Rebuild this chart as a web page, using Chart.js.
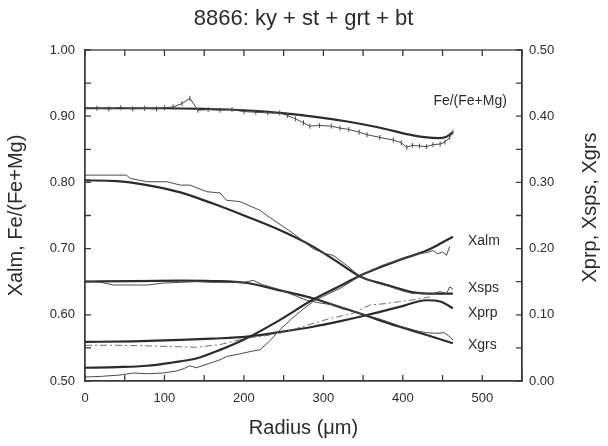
<!DOCTYPE html>
<html>
<head>
<meta charset="utf-8">
<script src="https://cdn.jsdelivr.net/npm/chart.js@4.4.0/dist/chart.umd.min.js"></script>
<style>
	body { margin: 0; background: #fff; }
	#wrap { width: 608px; height: 446px; }
</style>
</head>
<body>
<div id="wrap"><canvas id="garnetChart" width="608" height="446"></canvas></div>
<script>
// Radius (um) and values. Left axis: Xalm, Fe/(Fe+Mg); right axis: Xprp, Xsps, Xgrs
const feMeasR = [0, 15, 30, 45, 60, 75, 90, 100, 111, 122, 132, 142, 155, 170, 185, 200, 215, 230, 245, 255, 265, 275, 283, 295, 310, 321, 332, 345, 355, 371, 388, 398, 405, 412, 421, 430, 438, 447, 453, 459, 463];
const feMeas = [0.912, 0.912, 0.911, 0.913, 0.911, 0.912, 0.911, 0.913, 0.914, 0.919, 0.927, 0.909, 0.910, 0.909, 0.910, 0.907, 0.906, 0.905, 0.905, 0.901, 0.896, 0.890, 0.885, 0.886, 0.885, 0.882, 0.880, 0.876, 0.872, 0.868, 0.864, 0.860, 0.853, 0.856, 0.855, 0.854, 0.857, 0.858, 0.861, 0.868, 0.876];
const feModelR = [0, 50, 100, 150, 200, 245, 290, 330, 370, 413, 430, 445, 455, 463];
const feModel = [0.912, 0.912, 0.912, 0.911, 0.909, 0.905, 0.899, 0.892, 0.883, 0.871, 0.868, 0.867, 0.869, 0.876];

const almMeasR = [0, 20, 44, 60, 80, 98, 115, 125, 132, 140, 155, 170, 178, 195, 210, 220, 232, 245, 260, 275, 287, 300, 321, 335, 346, 360, 375, 396, 410, 420, 430, 438, 444, 450, 455, 459];
const almMeas = [0.506, 0.507, 0.509, 0.512, 0.511, 0.512, 0.515, 0.519, 0.523, 0.520, 0.526, 0.532, 0.537, 0.541, 0.545, 0.547, 0.560, 0.577, 0.594, 0.609, 0.620, 0.628, 0.640, 0.650, 0.659, 0.667, 0.675, 0.683, 0.688, 0.692, 0.694, 0.697, 0.692, 0.695, 0.690, 0.703];
const almModelR = [0, 40, 78, 110, 140, 170, 204, 245, 287, 320, 346, 370, 396, 430, 463];
const almModel = [0.520, 0.521, 0.523, 0.528, 0.534, 0.547, 0.565, 0.592, 0.623, 0.643, 0.659, 0.671, 0.683, 0.697, 0.718];

const spsMeasR = [0, 52, 57, 78, 103, 120, 132, 153, 170, 178, 195, 220, 229, 262, 287, 300, 312, 329, 346, 365, 388, 400, 413, 425, 435, 447, 455, 459, 463];
const spsMeas = [0.311, 0.311, 0.306, 0.301, 0.301, 0.296, 0.296, 0.286, 0.284, 0.273, 0.271, 0.258, 0.250, 0.223, 0.200, 0.193, 0.190, 0.175, 0.158, 0.149, 0.141, 0.136, 0.132, 0.133, 0.131, 0.135, 0.132, 0.142, 0.139];
const spsModelR = [0, 40, 78, 120, 161, 200, 245, 287, 320, 346, 380, 413, 440, 463];
const spsModel = [0.303, 0.302, 0.296, 0.285, 0.268, 0.250, 0.228, 0.203, 0.178, 0.158, 0.145, 0.134, 0.132, 0.132];

const grsMeasR = [0, 20, 36, 60, 78, 99, 120, 140, 160, 180, 200, 212, 222, 245, 262, 279, 295, 312, 330, 346, 370, 396, 420, 430, 443, 452, 458, 463];
const grsMeas = [0.151, 0.149, 0.145, 0.145, 0.145, 0.148, 0.149, 0.150, 0.149, 0.149, 0.149, 0.152, 0.146, 0.138, 0.130, 0.122, 0.118, 0.115, 0.109, 0.102, 0.094, 0.083, 0.075, 0.073, 0.072, 0.073, 0.068, 0.062];
const grsModelR = [0, 60, 120, 160, 204, 245, 287, 320, 346, 370, 396, 430, 463];
const grsModel = [0.150, 0.151, 0.1515, 0.151, 0.148, 0.137, 0.125, 0.112, 0.102, 0.092, 0.082, 0.0695, 0.057];

const prpMeasR = [0, 40, 80, 110, 140, 170, 204, 225, 245, 265, 287, 310, 337, 350, 359, 380, 396, 415, 434];
const prpMeas = [0.054, 0.054, 0.053, 0.052, 0.051, 0.055, 0.065, 0.068, 0.072, 0.079, 0.087, 0.095, 0.102, 0.110, 0.115, 0.117, 0.120, 0.123, 0.127];
const prpModelR = [0, 60, 120, 160, 204, 245, 287, 320, 346, 370, 396, 430, 447, 463];
const prpModel = [0.059, 0.060, 0.062, 0.064, 0.067, 0.074, 0.082, 0.090, 0.097, 0.104, 0.112, 0.122, 0.120, 0.110];

const seriesLabels = ["Fe/(Fe+Mg)", "Xalm", "Xsps", "Xprp", "Xgrs"];
const labelAnchors = [
	{ axis: "y", r: 531, v: 0.922, align: "right" },
	{ axis: "y", r: 482, v: 0.711, align: "left" },
	{ axis: "y2", r: 482, v: 0.1405, align: "left" },
	{ axis: "y2", r: 482, v: 0.1027, align: "left" },
	{ axis: "y2", r: 482, v: 0.0544, align: "left" },
];

const FONT = "'Liberation Sans', Arial, Helvetica, sans-serif";
const INK = "#2b2b2b";

function pts(rs, vs) {
	return rs.map((r, i) => ({ x: r, y: vs[i] }));
}

function measured(rs, vs, axis, extra) {
	return Object.assign({
		data: pts(rs, vs),
		yAxisID: axis,
		borderColor: "#4a4a4a",
		borderWidth: 1,
		pointRadius: 0,
		tension: 0,
		fill: false,
	}, extra || {});
}

function model(rs, vs, axis) {
	return {
		data: pts(rs, vs),
		yAxisID: axis,
		borderColor: INK,
		borderWidth: 2.2,
		pointRadius: 0,
		tension: 0.4,
		cubicInterpolationMode: "monotone",
		fill: false,
	};
}

// frame, inward ticks, title, right axis title and curve labels
const decorations = {
	id: "decorations",
	afterDraw(chart) {
		const { ctx, chartArea: a, scales } = chart;
		ctx.save();
		ctx.strokeStyle = "#3a3a3a";
		ctx.lineWidth = 1.3;
		ctx.strokeRect(a.left, a.top, a.right - a.left, a.bottom - a.top);
		ctx.beginPath();
		scales.x.ticks.forEach((t) => {
			const px = scales.x.getPixelForValue(t.value);
			ctx.moveTo(px, a.bottom);
			ctx.lineTo(px, a.bottom - 6);
			ctx.moveTo(px, a.top);
			ctx.lineTo(px, a.top + 6);
		});
		scales.y.ticks.forEach((t) => {
			const py = scales.y.getPixelForValue(t.value);
			ctx.moveTo(a.left, py);
			ctx.lineTo(a.left + 6, py);
		});
		scales.y2.ticks.forEach((t) => {
			const py = scales.y2.getPixelForValue(t.value);
			ctx.moveTo(a.right, py);
			ctx.lineTo(a.right - 6, py);
		});
		ctx.stroke();

		ctx.fillStyle = INK;
		ctx.textBaseline = "middle";
		ctx.textAlign = "center";
		ctx.font = "22px " + FONT;
		ctx.fillText("8866: ky + st + grt + bt", (a.left + a.right) / 2, 19);

		// right axis title reads bottom to top, like the left one
		ctx.save();
		ctx.font = "20px " + FONT;
		ctx.translate(590, (a.top + a.bottom) / 2 - 8);
		ctx.rotate(-Math.PI / 2);
		ctx.fillText("Xprp, Xsps, Xgrs", 0, 0);
		ctx.restore();

		ctx.font = "14px " + FONT;
		seriesLabels.forEach((txt, i) => {
			const an = labelAnchors[i];
			ctx.textAlign = an.align;
			ctx.fillText(txt, scales.x.getPixelForValue(an.r), scales[an.axis].getPixelForValue(an.v));
		});
		ctx.restore();
	},
};

function tickLabel(v) {
	return Math.round(v * 100) % 10 === 0 ? v.toFixed(2) : "";
}

const ctx = document.getElementById("garnetChart").getContext("2d");
Chart.defaults.font.family = FONT;
Chart.defaults.color = INK;

const garnetChart = new Chart(ctx, {
	type: "line",
	data: {
		datasets: [
			measured(feMeasR, feMeas, "y", { pointStyle: "line", pointRadius: 2.5, pointRotation: 90, pointBorderWidth: 1 }),
			model(feModelR, feModel, "y"),
			measured(spsMeasR, spsMeas, "y2"),
			model(spsModelR, spsModel, "y2"),
			measured(almMeasR, almMeas, "y"),
			model(almModelR, almModel, "y"),
			measured(grsMeasR, grsMeas, "y2"),
			model(grsModelR, grsModel, "y2"),
			measured(prpMeasR, prpMeas, "y2", { borderColor: "#6e6e6e", borderDash: [7, 3, 2, 3] }),
			model(prpModelR, prpModel, "y2"),
		],
	},
	options: {
		responsive: false,
		animation: false,
		layout: { padding: { top: 50 } },
		plugins: {
			legend: { display: false },
			tooltip: { enabled: false },
		},
		scales: {
			x: {
				type: "linear",
				min: 0,
				max: 550,
				grid: { drawOnChartArea: false, drawTicks: false },
				border: { color: "#3a3a3a", width: 1.3 },
				ticks: {
					stepSize: 50,
					padding: 10,
					autoSkip: false,
					maxRotation: 0,
					font: { size: 13 },
					callback: (v) => (v % 100 === 0 && v <= 500 ? String(v) : ""),
				},
				title: { display: true, text: "Radius (\u03bcm)", font: { size: 20 }, padding: { top: 0, bottom: 6 } },
				afterFit: (s) => { s.height = 65; },
			},
			y: {
				position: "left",
				min: 0.5,
				max: 1.0,
				grid: { drawOnChartArea: false, drawTicks: false },
				border: { color: "#3a3a3a", width: 1.3 },
				ticks: { stepSize: 0.05, padding: 10, autoSkip: false, font: { size: 13 }, callback: tickLabel },
				title: { display: true, text: "Xalm, Fe/(Fe+Mg)", font: { size: 20 }, padding: { top: 4, bottom: 0 } },
				afterFit: (s) => { s.width = 85; },
			},
			y2: {
				position: "right",
				min: 0,
				max: 0.5,
				grid: { drawOnChartArea: false, drawTicks: false },
				border: { color: "#3a3a3a", width: 1.3 },
				ticks: { stepSize: 0.05, padding: 7, autoSkip: false, font: { size: 13 }, callback: tickLabel },
				afterFit: (s) => { s.width = 86; },
			},
		},
	},
	plugins: [decorations],
});
</script>
</body>
</html>
